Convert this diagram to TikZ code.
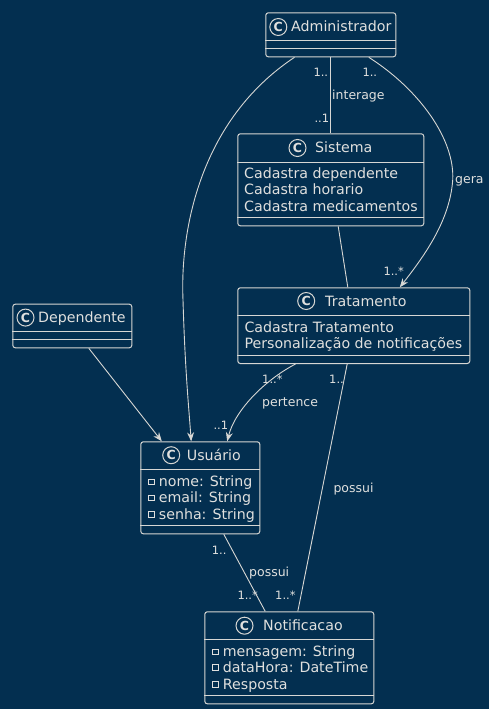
\documentclass[tikz,border=0pt]{standalone}
\usepackage{fontspec}
\setmainfont{DejaVu Sans}
\usetikzlibrary{arrows.meta}
\definecolor{umlback}{RGB}{3,47,80}
\definecolor{umlline}{RGB}{215,215,212}
\definecolor{umltext}{RGB}{224,224,222}
\tikzstyle{ClassBox}=[rectangle, draw=umlline, line width=1pt, rounded corners=2.5pt, inner sep=0pt, anchor=north west]
\tikzstyle{ClassIcon}=[circle, draw=umlline, line width=1pt, minimum size=17pt, inner sep=0pt, text=umltext, font=\fontsize{12.5}{13}\selectfont\bfseries]
\tikzstyle{ClassTitle}=[anchor=base west, inner sep=0pt, text=umltext, font=\fontsize{14.2}{16}\selectfont]
\tikzstyle{Member}=[ClassTitle]
\tikzstyle{Private}=[rectangle, draw=umltext, line width=0.8pt, minimum size=5.5pt, inner sep=0pt]
\tikzstyle{Divider}=[draw=umlline, line width=1pt]
\tikzstyle{Assoc}=[draw=umlline, line width=0.9pt]
\tikzstyle{Navig}=[Assoc, ->]
\tikzstyle{EdgeLabel}=[anchor=base west, inner sep=0pt, text=umltext, font=\fontsize{12.5}{14}\selectfont]
\tikzstyle{Mult}=[EdgeLabel, font=\fontsize{11.5}{13}\selectfont]
\tikzset{>={Stealth[length=9pt,width=7pt,inset=3pt]}}

\begin{document}
\begin{tikzpicture}[x=1pt, y=-1pt]
\path[use as bounding box, fill=umlback] (0,0) rectangle (489,709);

% classes
\node[ClassBox, minimum width=130pt, minimum height=44pt](ADM) at (265.3,12.3) {};
\node[ClassIcon](ADMi) at (278.3,27) {C};
\node[ClassTitle](ADMt) at (291,31.5) {Administrador};
\draw[Divider] ([yshift=-28pt]ADM.north west) -- ([yshift=-28pt]ADM.north east);
\draw[Divider] ([yshift=-36pt]ADM.north west) -- ([yshift=-36pt]ADM.north east);

\node[ClassBox, minimum width=186pt, minimum height=92pt](SIS) at (237.3,133.3) {};
\node[ClassIcon](SISi) at (297.5,148) {C};
\node[ClassTitle](SISt) at (315,152.7) {Sistema};
\draw[Divider] ([yshift=-29pt]SIS.north west) -- ([yshift=-29pt]SIS.north east);
\draw[Divider] ([yshift=-84pt]SIS.north west) -- ([yshift=-84pt]SIS.north east);
\node[Member](SISa) at (244,178.3) {Cadastra dependente};
\node[Member](SISb) at (244,194.7) {Cadastra horario};
\node[Member](SISc) at (244,211.3) {Cadastra medicamentos};

\node[ClassBox, minimum width=232pt, minimum height=75.7pt](TRA) at (237.3,287.3) {};
\node[ClassIcon](TRAi) at (306.2,301) {C};
\node[ClassTitle](TRAt) at (325,306.7) {Tratamento};
\draw[Divider] ([yshift=-27.7pt]TRA.north west) -- ([yshift=-27.7pt]TRA.north east);
\draw[Divider] ([yshift=-68.4pt]TRA.north west) -- ([yshift=-68.4pt]TRA.north east);
\node[Member](TRAa) at (244.3,332.3) {Cadastra Tratamento};
\node[Member](TRAb) at (244.3,348.3) {Personalização de notificações};

\node[ClassBox, minimum width=119pt, minimum height=43.6pt](DEP) at (12.3,303.7) {};
\node[ClassIcon](DEPi) at (25.5,317.6) {C};
\node[ClassTitle](DEPt) at (38,322.7) {Dependente};
\draw[Divider] ([yshift=-28pt]DEP.north west) -- ([yshift=-28pt]DEP.north east);
\draw[Divider] ([yshift=-35.6pt]DEP.north west) -- ([yshift=-35.6pt]DEP.north east);

\node[ClassBox, minimum width=119pt, minimum height=92pt](USU) at (140.3,441.3) {};
\node[ClassIcon](USUi) at (171.2,455.2) {C};
\node[ClassTitle](USUt) at (186.7,460.3) {Usuário};
\draw[Divider] ([yshift=-28pt]USU.north west) -- ([yshift=-28pt]USU.north east);
\draw[Divider] ([yshift=-83.7pt]USU.north west) -- ([yshift=-83.7pt]USU.north east);
\node[Private](USUp1) at (151.2,481.8) {};
\node[Member](USUa) at (158.7,486.7) {nome: String};
\node[Private](USUp2) at (151.2,497.8) {};
\node[Member](USUb) at (158.7,502.7) {email: String};
\node[Private](USUp3) at (151.2,514.4) {};
\node[Member](USUc) at (158.7,519.3) {senha: String};

\node[ClassBox, minimum width=169pt, minimum height=92pt](NOT) at (204.3,611.3) {};
\node[ClassIcon](NOTi) at (244.5,625.7) {C};
\node[ClassTitle](NOTt) at (263,630.7) {Notificacao};
\draw[Divider] ([yshift=-28pt]NOT.north west) -- ([yshift=-28pt]NOT.north east);
\draw[Divider] ([yshift=-83.7pt]NOT.north west) -- ([yshift=-83.7pt]NOT.north east);
\node[Private](NOTp1) at (215.5,652) {};
\node[Member](NOTa) at (222.7,656.7) {mensagem: String};
\node[Private](NOTp2) at (215.5,667.6) {};
\node[Member](NOTb) at (222.7,672.3) {dataHora: DateTime};
\node[Private](NOTp3) at (215.5,684.3) {};
\node[Member](NOTc) at (222.7,689) {Resposta};

% associations
\draw[Assoc] (ADM.south) -- (SIS.north);
\draw[Navig] ([xshift=-36.3pt]ADM.south) .. controls (200,120) and (180,230) .. (183,300)
  .. controls (185,370) and (189,410) .. ([xshift=-9.1pt]USU.north);
\draw[Navig] ([xshift=38pt]ADM.south) .. controls (420,90) and (455,140) .. (452.7,180)
  .. controls (450,220) and (425,255) .. ([xshift=46pt]TRA.north);
\draw[Assoc] ([xshift=7.4pt]SIS.south) -- ([xshift=-6pt]TRA.north);
\draw[Navig] ([xshift=16.5pt]DEP.south) -- ([xshift=-38.5pt]USU.north);
\draw[Navig] ([xshift=-58.3pt]TRA.south) .. controls (265,380) and (235,410) .. ([xshift=26.9pt]USU.north);
\draw[Assoc] ([xshift=-6.6pt]TRA.south) -- ([xshift=8.5pt]NOT.north);
\draw[Assoc] ([xshift=23.5pt]USU.south) -- ([xshift=-24.1pt]NOT.north);

% labels
\node[Mult](m1) at (313.3,76) {1..};
\node[Mult](m2) at (362.3,76) {1..};
\node[EdgeLabel](l1) at (332,99) {interage};
\node[Mult](m3) at (314.3,122.3) {..1};
\node[EdgeLabel](l2) at (455,183.3) {gera};
\node[Mult](m4) at (383.3,275.7) {1..*};
\node[Mult](m5) at (262,383.3) {1..*};
\node[Mult](m6) at (329,383.3) {1..};
\node[EdgeLabel](l3) at (262,406.7) {pertence};
\node[Mult](m7) at (213.3,429.3) {..1};
\node[EdgeLabel](l4) at (333.3,492) {possui};
\node[Mult](m8) at (211.7,554) {1..};
\node[EdgeLabel](l5) at (249,576.7) {possui};
\node[Mult](m9) at (237.3,599.3) {1..*};
\node[Mult](m10) at (275,599.3) {1..*};
\end{tikzpicture}
\end{document}
